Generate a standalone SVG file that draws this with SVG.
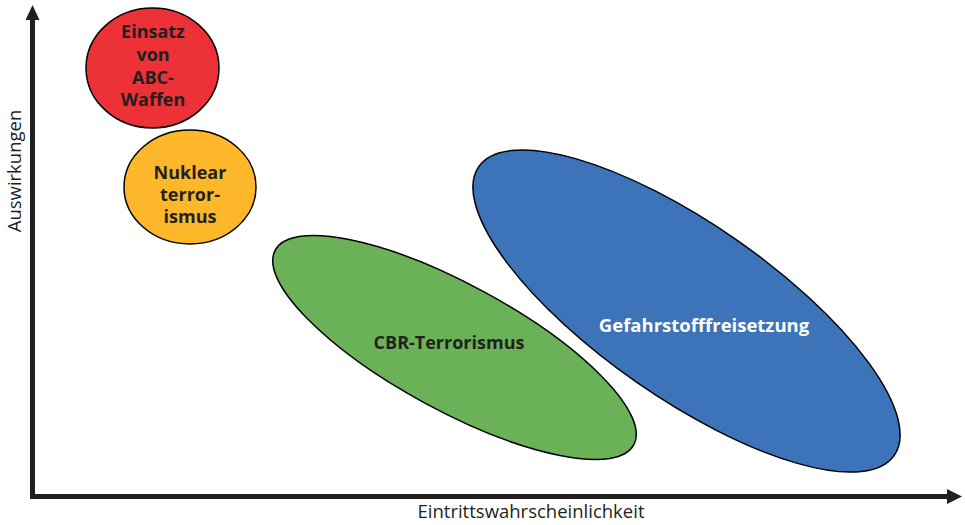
<svg xmlns="http://www.w3.org/2000/svg" width="965" height="525" viewBox="0 0 965 525">
<style>
.node{stroke:#000;stroke-width:1.5}
.lbl{font-family:"Open Sans","Liberation Sans",sans-serif;font-weight:bold;font-size:18px;fill:#231f20;text-anchor:middle}
.ax{font-family:"Open Sans","Liberation Sans",sans-serif;font-size:18.5px;fill:#231f20;text-anchor:middle}
</style>
<rect width="965" height="525" fill="#fff"/>
<g id="axes">
<path d="M32.5 499 V18 M30 496.5 H950" stroke="#231f20" stroke-width="5" fill="none"/>
<polygon points="32.5,5 25.5,20 39.5,20" fill="#231f20"/>
<polygon points="962,496.5 947,489 947,504" fill="#231f20"/>
<text class="ax" transform="translate(21,171) rotate(-90)">Auswirkungen</text>
<text class="ax" x="531" y="518">Eintrittswahrscheinlichkeit</text>
</g>
<g id="node-abc">
<ellipse class="node" cx="152.5" cy="68" rx="66.5" ry="60" fill="#ed3237"/>
<text class="lbl" x="153" y="38">Einsatz</text>
<text class="lbl" x="153" y="61">von</text>
<text class="lbl" x="153" y="84">ABC-</text>
<text class="lbl" x="153" y="106">Waffen</text>
</g>
<g id="node-nuklear">
<ellipse class="node" cx="190" cy="187" rx="66" ry="57" fill="#fcb72a"/>
<text class="lbl" x="190" y="179">Nuklear</text>
<text class="lbl" x="190" y="201">terror-</text>
<text class="lbl" x="190" y="223">ismus</text>
</g>
<g id="node-cbr">
<ellipse class="node" cx="0" cy="0" rx="204" ry="63" fill="#6bb158" transform="translate(454.5,347.5) rotate(28.5)"/>
<text class="lbl" x="449" y="349">CBR-Terrorismus</text>
</g>
<g id="node-gefahr">
<ellipse class="node" cx="0" cy="0" rx="253" ry="87" fill="#3d73b9" transform="translate(686.5,311) rotate(34.8)"/>
<text class="lbl" x="704" y="332" style="font-size:18.5px;fill:#fff">Gefahrstofffreisetzung</text>
</g>
<g id="connectors"></g>
</svg>
